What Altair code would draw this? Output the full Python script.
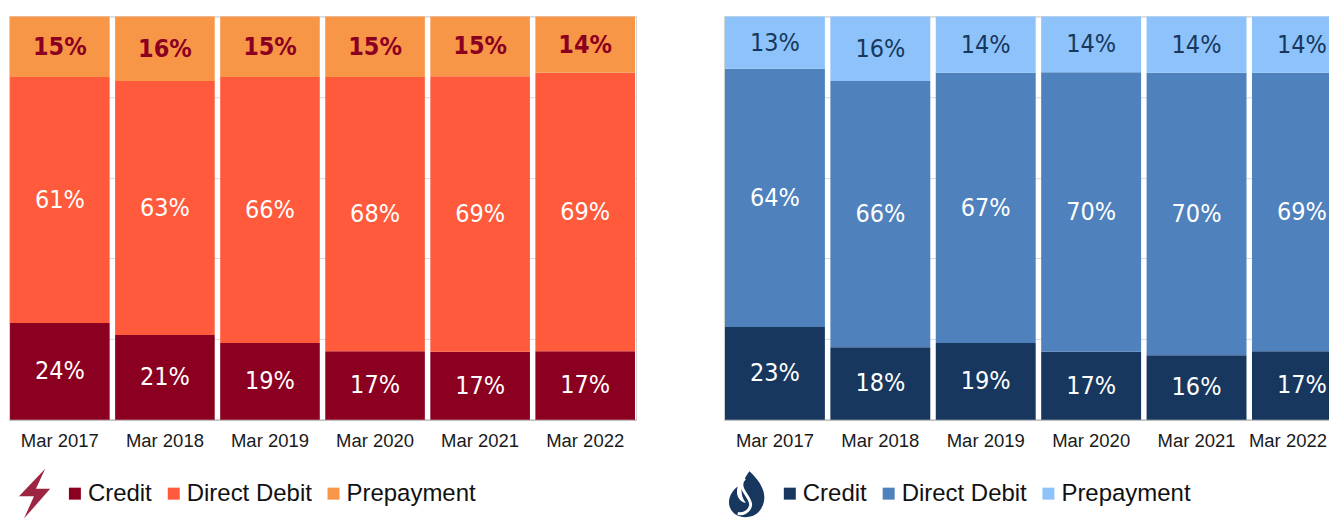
import altair as alt
import pandas as pd

years = ["Mar 2017", "Mar 2018", "Mar 2019", "Mar 2020", "Mar 2021", "Mar 2022"]
cats = ["Credit", "Direct Debit", "Prepayment"]

elec_credit = [24, 21, 19, 17, 17, 17]
elec_dd = [61, 63, 66, 68, 69, 69]
elec_pre = [15, 16, 15, 15, 15, 14]

gas_credit = [23, 18, 19, 17, 16, 17]
gas_dd = [64, 66, 67, 70, 70, 69]
gas_pre = [13, 16, 14, 14, 14, 14]

elec_colors = ["#8B0021", "#FF5A3B", "#F79646"]
gas_colors = ["#17375E", "#4F81BD", "#8DC3FA"]

BOLT = "M 0.45 -1 L -0.6 0.1 L 0.0 0.1 L -0.4 1 L 0.65 -0.2 L 0.08 -0.2 L 0.45 -1 Z"
FLAME = ("M 0.15 -1 C 0.75 -0.45 0.95 0.1 0.65 0.6 C 0.45 0.95 -0.1 1.1 -0.5 0.8 "
         "C -0.9 0.45 -0.7 -0.1 -0.35 -0.35 C -0.45 0 -0.3 0.3 0 0.35 "
         "C -0.35 -0.1 -0.15 -0.6 0.15 -1 Z")
SWOOSH = "M -0.05 -0.7 C -0.45 -0.3 0.25 0.1 0.2 0.45 C 0.15 0.75 -0.15 0.85 -0.35 0.8"

LABEL_FONT = "'DejaVu Sans Condensed', Roboto, sans-serif"


def make_df(credit, dd, pre):
    rows = []
    for i, y in enumerate(years):
        for o, (c, v) in enumerate(zip(cats, [credit[i], dd[i], pre[i]])):
            rows.append({"year": y, "cat": c, "value": v, "ord": o})
    return pd.DataFrame(rows)


def panel(credit, dd, pre, colors, pre_text_color, pre_bold, icon, width, last_shift):
    df = make_df(credit, dd, pre)
    xenc = alt.X("year:N", sort=years,
                 scale=alt.Scale(paddingInner=0.052, paddingOuter=0.01),
                 axis=alt.Axis(title=None, labelAngle=0, ticks=False,
                               domainColor="#BFBFBF", domainWidth=1.5,
                               labelFont="Liberation Sans", labelFontSize=18.5,
                               labelColor="#1a1a1a", labelPadding=12, grid=False,
                               labelOffset={"condition": {"test": "datum.value == 'Mar 2022'",
                                                          "value": last_shift},
                                            "value": 0}))
    yaxis = alt.Axis(title=None, labels=False, ticks=False, domain=False, grid=True,
                     gridColor="#D9D9D9", values=[0, 0.2, 0.4, 0.6, 0.8, 1.0], minExtent=0)
    yscale = alt.Scale(domain=[0, 1])

    bars = alt.Chart(df).mark_bar().encode(
        x=xenc,
        y=alt.Y("value:Q", stack="normalize", scale=yscale, axis=yaxis),
        color=alt.Color("cat:N", scale=alt.Scale(domain=cats, range=colors),
                        legend=alt.Legend(orient="none", legendX=54, legendY=466,
                                          direction="horizontal", title=None,
                                          symbolType="square", symbolSize=144,
                                          symbolStrokeWidth=0,
                                          labelFont="Liberation Sans", labelFontSize=24,
                                          labelColor="#111", labelOffset=1,
                                          columnPadding=9, padding=0)),
        order=alt.Order("ord:Q", sort="ascending"),
    )

    base_text = alt.Chart(df).transform_joinaggregate(
        total="sum(value)", groupby=["year"]
    ).transform_window(
        cum="sum(value)", sort=[alt.SortField("ord")], groupby=["year"], frame=[None, 0]
    ).transform_calculate(
        mid="(datum.cum - datum.value/2)/datum.total",
        label="datum.value + '%'",
    )
    tenc = dict(x=xenc, y=alt.Y("mid:Q", scale=yscale, axis=yaxis), text="label:N")
    t_other = base_text.transform_filter("datum.cat != 'Prepayment'").mark_text(
        font=LABEL_FONT, fontSize=25, color="white"
    ).encode(**tenc)
    t_pre = base_text.transform_filter("datum.cat == 'Prepayment'").mark_text(
        font=LABEL_FONT, fontSize=25, color=pre_text_color,
        fontWeight="bold" if pre_bold else "normal"
    ).encode(**tenc)

    one = pd.DataFrame({"k": [0]})
    layers = [bars, t_other, t_pre]
    if icon == "bolt":
        layers.append(alt.Chart(one).mark_point(
            shape=BOLT, filled=True, size=2500, color=colors[0], opacity=0.85
        ).encode(x=alt.value(25), y=alt.value(478)))
    else:
        layers.append(alt.Chart(one).mark_point(
            shape=FLAME, filled=True, size=2200, color=colors[0], opacity=1
        ).encode(x=alt.value(22), y=alt.value(479)))
        layers.append(alt.Chart(one).mark_point(
            shape=SWOOSH, filled=False, size=2200, color="white", strokeWidth=3, opacity=1
        ).encode(x=alt.value(22), y=alt.value(479)))
    return alt.layer(*layers).properties(width=width, height=404)


left = panel(elec_credit, elec_dd, elec_pre, elec_colors, "#8B0021", True, "bolt", 628, 0)
right = panel(gas_credit, gas_dd, gas_pre, gas_colors, "#17375E", False, "flame", 630, -14)

chart = alt.hconcat(left, right, spacing=86).resolve_scale(color="independent").properties(
    padding={"left": 0, "top": 7, "right": -25, "bottom": 0}
).configure_view(stroke="#D0D0D0")

chart.save("out.html", embed_options={"renderer": "svg", "actions": False})
